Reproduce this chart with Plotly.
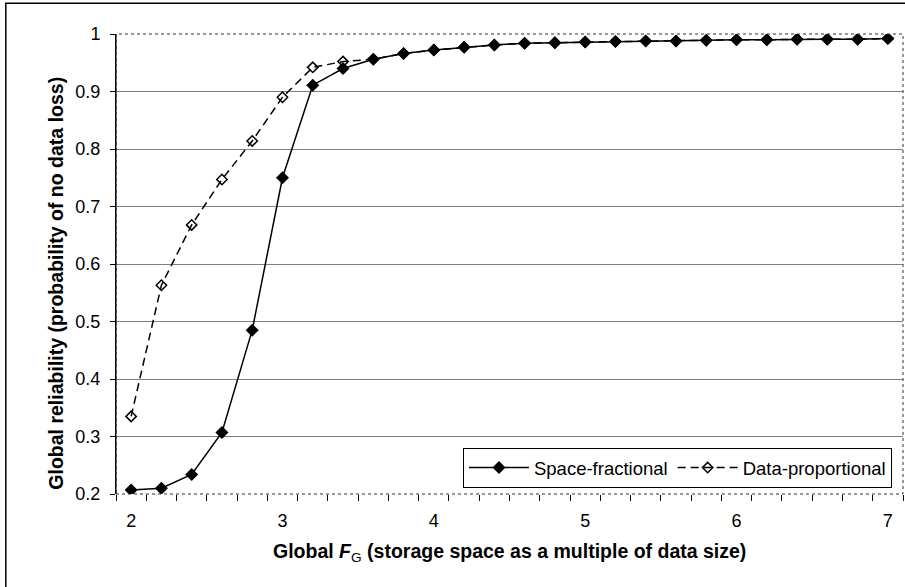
import plotly.graph_objects as go

x_vals = [2.0, 2.2, 2.4, 2.6, 2.8, 3.0, 3.2, 3.4, 3.6, 3.8, 4.0, 4.2, 4.4,
          4.6, 4.8, 5.0, 5.2, 5.4, 5.6, 5.8, 6.0, 6.2, 6.4, 6.6, 6.8, 7.0]
space_fractional = [0.207, 0.210, 0.234, 0.307, 0.485, 0.750, 0.911, 0.940,
                    0.956, 0.966, 0.972, 0.977, 0.981, 0.984, 0.985, 0.986,
                    0.987, 0.988, 0.988, 0.989, 0.990, 0.990, 0.991, 0.991,
                    0.991, 0.992]
data_proportional = [0.335, 0.563, 0.668, 0.747, 0.814, 0.890, 0.942, 0.952,
                     0.956, 0.966, 0.972, 0.977, 0.981, 0.984, 0.985, 0.986,
                     0.987, 0.988, 0.988, 0.989, 0.990, 0.990, 0.991, 0.991,
                     0.991, 0.992]
x_tick_vals = [2, 3, 4, 5, 6, 7]
x_tick_text = ["2", "3", "4", "5", "6", "7"]
x_minor_ticks = [round(1.9 + 0.2 * k, 2) for k in range(27)]

FONT = "Liberation Sans, Arial, sans-serif"

fig = go.Figure()
fig.add_trace(go.Scatter(
    x=x_vals, y=data_proportional, name="Data-proportional", mode="lines+markers",
    line=dict(color="black", width=1.5, dash="8px,5px"),
    marker=dict(symbol="diamond-open", size=8, color="black", line=dict(width=1.5, color="black")),
))
fig.add_trace(go.Scatter(
    x=x_vals, y=space_fractional, name="Space-fractional", mode="lines+markers",
    line=dict(color="black", width=1.5),
    marker=dict(symbol="diamond", size=10, color="black"),
))

fig.update_layout(
    width=905, height=587,
    margin=dict(l=116, r=2, t=34, b=93),
    paper_bgcolor="white", plot_bgcolor="white",
    font=dict(family=FONT, color="black", size=18),
    showlegend=True,
    legend=dict(orientation="h", x=0.986, xanchor="right", y=0.013, yanchor="bottom",
                bordercolor="black", borderwidth=1, bgcolor="white",
                font=dict(size=18.5), traceorder="reversed", itemwidth=60,
                tracegroupgap=0),
    xaxis=dict(range=[1.9, 7.1], tickvals=x_tick_vals, ticktext=x_tick_text,
               ticks="", showgrid=False, zeroline=False, showline=False,
               tickfont=dict(size=18), automargin=False, ticklabelstandoff=14,
               minor=dict(tickvals=x_minor_ticks, ticks="outside", ticklen=6,
                          tickcolor="black", showgrid=False)),
    yaxis=dict(range=[0.2, 1.0], dtick=0.1, tick0=0.2, ticks="outside", ticklen=5,
               tickcolor="black", showgrid=True, gridcolor="#808080", gridwidth=1,
               zeroline=False, showline=True, linecolor="black", linewidth=1,
               tickfont=dict(size=18), automargin=False, ticklabelstandoff=6),
    annotations=[
        dict(text="<b>Global <i>F</i></b><sub>G</sub><b> (storage space as a multiple of data size)</b>",
             xref="paper", yref="paper", x=0.5, y=-0.127, xanchor="center", yanchor="middle",
             showarrow=False, font=dict(size=19.5)),
        dict(text="<b>Global reliability (probability of no data loss)</b>",
             xref="paper", yref="paper", x=-0.0765, y=0.459, xanchor="center", yanchor="middle",
             textangle=-90, showarrow=False, font=dict(size=19.5)),
    ],
    shapes=[
        dict(type="rect", xref="paper", yref="paper", x0=0, x1=1, y0=0, y1=1,
             line=dict(color="#303030", width=1, dash="dot"), layer="above"),
        dict(type="line", xref="paper", yref="paper", x0=0, x1=0, y0=0, y1=1,
             line=dict(color="black", width=1), layer="above"),
        dict(type="rect", xref="paper", yref="paper", x0=-0.140, x1=1.2, y0=-0.5, y1=1.067,
             line=dict(color="black", width=1.5), layer="below"),
    ],
)

fig.write_html("out.html", config={"displayModeBar": False},
               post_script="document.body.style.margin='0';document.body.style.overflow='hidden';")
